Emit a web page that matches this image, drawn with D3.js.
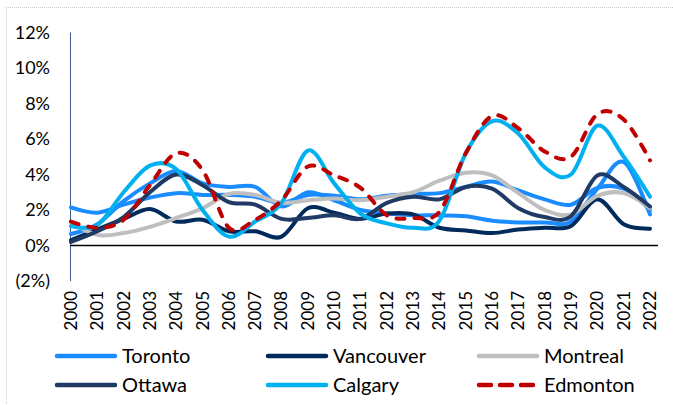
<!DOCTYPE html>
<html>
<head>
<meta charset="utf-8">
<script src="https://cdn.jsdelivr.net/npm/d3@7"></script>
<style>
  body { margin: 0; background: #fff; }
  svg { display: block; font-family: Lato, "Open Sans", sans-serif; }
</style>
</head>
<body>
<svg id="chart" width="673" height="405"></svg>
<script>
// years on the category axis
const years = d3.range(2000, 2023).map(String);

// annual change, %
const toronto   = [2.15, 1.85, 2.3, 2.7, 2.95, 2.85, 2.85, 2.75, 2.4, 2.85, 2.8, 2.6, 2.8, 2.9, 2.95, 3.3, 3.6, 3.1, 2.6, 2.3, 3.25, 3.2, 2.0];
const vancouver = [0.3, 0.9, 1.5, 2.05, 1.35, 1.45, 0.8, 0.8, 0.5, 2.1, 1.85, 1.5, 1.8, 1.75, 1.0, 0.85, 0.7, 0.9, 1.0, 1.1, 2.6, 1.2, 0.95];
const montreal  = [1.3, 0.6, 0.7, 1.05, 1.55, 2.1, 2.9, 2.85, 2.4, 2.55, 2.65, 2.55, 2.75, 3.0, 3.65, 4.1, 3.95, 2.95, 2.0, 1.75, 2.8, 2.95, 2.1];
const ottawa    = [0.2, 0.8, 1.6, 3.0, 4.0, 3.4, 2.45, 2.3, 1.5, 1.55, 1.7, 1.5, 2.4, 2.75, 2.6, 3.3, 3.2, 2.1, 1.6, 1.65, 3.95, 3.3, 2.2];
const calgary   = [1.1, 1.15, 3.0, 4.5, 4.3, 2.0, 0.5, 1.35, 2.4, 5.35, 3.5, 1.8, 1.25, 1.0, 1.4, 5.2, 7.0, 6.3, 4.4, 4.0, 6.75, 5.0, 2.75];
const edmonton  = [1.35, 1.0, 1.45, 3.4, 5.2, 4.25, 1.0, 1.45, 2.55, 4.45, 3.95, 3.25, 1.7, 1.55, 1.9, 5.2, 7.3, 6.6, 5.3, 5.0, 7.4, 7.1, 4.8];
// seventh line, same blue as Toronto, has no legend entry
const unlabeled = [0.65, 1.2, 2.5, 3.5, 4.2, 3.5, 3.3, 3.3, 2.2, 3.0, 2.55, 2.0, 1.8, 1.7, 1.7, 1.65, 1.4, 1.3, 1.3, 1.35, 3.2, 4.7, 1.75];

const yTicks = [-2, 0, 2, 4, 6, 8, 10, 12];

const series = [
  {name: null,        values: unlabeled, color: "#1a8cff", dash: null},
  {name: "Toronto",   values: toronto,   color: "#1a8cff", dash: null},
  {name: "Vancouver", values: vancouver, color: "#002a5c", dash: null},
  {name: "Montreal",  values: montreal,  color: "#bfbfbf", dash: null},
  {name: "Ottawa",    values: ottawa,    color: "#1f3a64", dash: null},
  {name: "Calgary",   values: calgary,   color: "#00b0f0", dash: null},
  {name: "Edmonton",  values: edmonton,  color: "#c00000", dash: "8,10"}
];

const svg = d3.select("#chart");

// dotted frame of the slide box
svg.append("line").attr("x1", 6).attr("x2", 673).attr("y1", 7.5).attr("y2", 7.5)
  .attr("stroke", "#c8c8c8").attr("stroke-dasharray", "1,1");
svg.append("line").attr("x1", 6.5).attr("x2", 6.5).attr("y1", 7).attr("y2", 405)
  .attr("stroke", "#c8c8c8").attr("stroke-dasharray", "1,1");

const x = d3.scalePoint().domain(years).range([71, 650]);
const y = d3.scaleLinear().domain([-2, 12]).range([281, 32.5]);

// y axis: line + labels only
svg.append("line").attr("x1", 70.5).attr("x2", 70.5).attr("y1", y(12)).attr("y2", y(-2))
  .attr("stroke", "#3c5f92").attr("stroke-width", 1);

svg.append("g").selectAll("text")
  .data(yTicks).join("text")
    .attr("x", 50)
    .attr("y", d => y(d))
    .attr("dy", "0.35em")
    .attr("text-anchor", "end")
    .attr("font-size", 18)
    .attr("fill", "#000")
    .text(d => d < 0 ? "(" + Math.abs(d) + "%)" : d + "%");

// zero line
svg.append("line").attr("x1", 70).attr("x2", 658).attr("y1", y(0)).attr("y2", y(0))
  .attr("stroke", "#000").attr("stroke-width", 1.5);

// year labels, rotated
svg.append("g").selectAll("text")
  .data(years).join("text")
    .attr("transform", d => `translate(${x(d)},291) rotate(-90)`)
    .attr("dy", "0.35em")
    .attr("text-anchor", "end")
    .attr("font-size", 17)
    .attr("fill", "#000")
    .text(d => d);

const line = d3.line()
  .x((d, i) => x(years[i]))
  .y(d => y(d))
  .curve(d3.curveCatmullRom.alpha(0));

svg.append("g").selectAll("path")
  .data(series).join("path")
    .attr("d", d => line(d.values))
    .attr("fill", "none")
    .attr("stroke", d => d.color)
    .attr("stroke-width", 4)
    .attr("stroke-linecap", "round")
    .attr("stroke-dasharray", d => d.dash);

// legend, 3 columns x 2 rows
const legendItems = series.filter(s => s.name);
const colX = [55, 266, 477];
const rowY = [356, 385];
const lg = svg.append("g").selectAll("g")
  .data(legendItems).join("g")
    .attr("transform", (d, i) => `translate(${colX[i % 3]},${rowY[Math.floor(i / 3)]})`);

lg.append("line")
  .attr("x1", 2).attr("x2", 60)
  .attr("stroke", d => d.color)
  .attr("stroke-width", 4.5)
  .attr("stroke-linecap", "round")
  .attr("stroke-dasharray", d => d.dash ? "12,9" : null);

lg.append("text")
  .attr("x", 67)
  .attr("dy", "0.35em")
  .attr("font-size", 20)
  .attr("fill", "#000")
  .text(d => d.name);
</script>
</body>
</html>
